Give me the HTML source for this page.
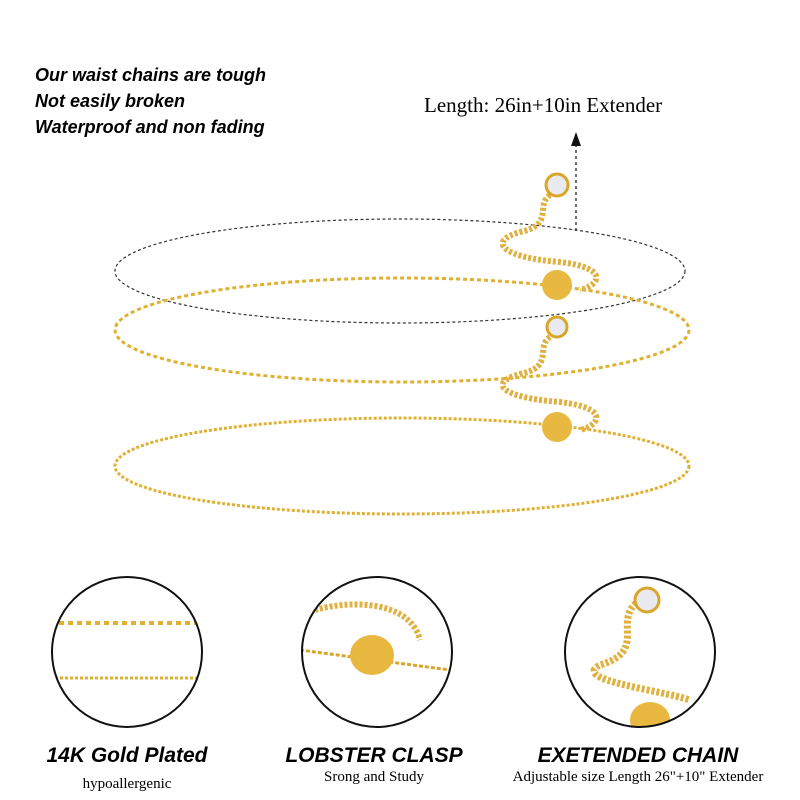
<!DOCTYPE html>
<html><head><meta charset="utf-8"><style>
html,body{margin:0;padding:0;background:#fff;}
svg{display:block}
.it{font-family:"Liberation Sans",sans-serif;font-weight:bold;font-style:italic;}
.sf{font-family:"Liberation Serif",serif;}
</style></head><body>
<svg width="800" height="800" viewBox="0 0 800 800" xmlns="http://www.w3.org/2000/svg">
<defs>
<clipPath id="c1"><circle cx="127" cy="652" r="75"/></clipPath>
<clipPath id="c2"><circle cx="377" cy="652" r="75"/></clipPath>
<clipPath id="c3"><circle cx="640" cy="652" r="75"/></clipPath>
</defs>
<text class="it" x="35" y="81" font-size="18">Our waist chains are tough</text>
<text class="it" x="35" y="107" font-size="18">Not easily broken</text>
<text class="it" x="35" y="133" font-size="18">Waterproof and non fading</text>
<text class="sf" x="424" y="112" font-size="21">Length: 26in+10in Extender</text>
<line x1="576" y1="231" x2="576" y2="145" stroke="#222" stroke-width="1.3" stroke-dasharray="3,3"/>
<polygon points="576,132 571,146 581,146" fill="#111"/>
<ellipse cx="400" cy="271" rx="285" ry="52" fill="none" stroke="#333" stroke-width="1.2" stroke-dasharray="3,2.5"/>
<ellipse cx="402" cy="330" rx="287" ry="52" fill="none" stroke="#e0b030" stroke-width="3" stroke-dasharray="4,3"/>
<ellipse cx="402" cy="466" rx="287" ry="48" fill="none" stroke="#e0b030" stroke-width="3" stroke-dasharray="3,2"/>
<path d="M550,195 C535,205 555,225 520,232 C485,242 505,258 560,262 C610,268 600,285 580,290" fill="none" stroke="#e0b040" stroke-width="6" stroke-dasharray="3,2"/>
<circle cx="557" cy="185" r="11" fill="#e8eaef" stroke="#d9a62a" stroke-width="3"/>
<ellipse cx="557" cy="285" rx="15" ry="15" fill="#e8b840"/>
<path d="M550,337 C535,347 555,367 520,374 C485,384 505,398 560,402 C610,408 600,425 580,430" fill="none" stroke="#e0b040" stroke-width="6" stroke-dasharray="3,2"/>
<circle cx="557" cy="327" r="10" fill="#e8eaef" stroke="#d9a62a" stroke-width="3"/>
<ellipse cx="557" cy="427" rx="15" ry="15" fill="#e8b840"/>
<g clip-path="url(#c1)">
<line x1="50" y1="623" x2="210" y2="623" stroke="#e0b030" stroke-width="4" stroke-dasharray="5,4"/>
<line x1="50" y1="678" x2="210" y2="678" stroke="#e0b030" stroke-width="3" stroke-dasharray="3,2"/>
</g>
<circle cx="127" cy="652" r="75" fill="none" stroke="#111" stroke-width="2"/>
<g clip-path="url(#c2)">
<path d="M315,610 C350,600 410,600 420,640" fill="none" stroke="#e0b040" stroke-width="6" stroke-dasharray="3,2"/>
<path d="M300,650 L450,670" fill="none" stroke="#d9a62a" stroke-width="3" stroke-dasharray="4,2"/>
<ellipse cx="372" cy="655" rx="22" ry="20" fill="#e8b840"/>
</g>
<circle cx="377" cy="652" r="75" fill="none" stroke="#111" stroke-width="2"/>
<g clip-path="url(#c3)">
<path d="M640,600 C610,620 650,650 600,665 C570,680 660,690 690,700" fill="none" stroke="#e0b040" stroke-width="7" stroke-dasharray="3,2"/>
<circle cx="647" cy="600" r="12" fill="#e8eaef" stroke="#d9a62a" stroke-width="3"/>
<ellipse cx="650" cy="720" rx="20" ry="18" fill="#e8b840"/>
</g>
<circle cx="640" cy="652" r="75" fill="none" stroke="#111" stroke-width="2"/>
<text class="it" x="127" y="762" font-size="21" text-anchor="middle">14K Gold Plated</text>
<text class="sf" x="127" y="788" font-size="15" text-anchor="middle">hypoallergenic</text>
<text class="it" x="374" y="762" font-size="21" text-anchor="middle">LOBSTER CLASP</text>
<text class="sf" x="374" y="781" font-size="15" text-anchor="middle">Srong and Study</text>
<text class="it" x="638" y="762" font-size="21" text-anchor="middle">EXETENDED CHAIN</text>
<text class="sf" x="638" y="781" font-size="15" text-anchor="middle">Adjustable size Length 26"+10" Extender</text>
</svg>
</body></html>
